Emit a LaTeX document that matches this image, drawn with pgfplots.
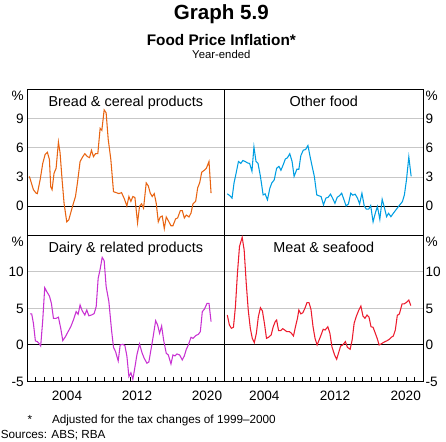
\documentclass[border=0pt]{standalone}
\usepackage{fontspec}
\setmainfont{Liberation Sans}
\usepackage{pgfplots}
\pgfplotsset{compat=1.18}

\definecolor{breadc}{RGB}{232,100,18}
\definecolor{otherc}{RGB}{0,158,226}
\definecolor{dairyc}{RGB}{200,50,210}
\definecolor{meatc}{RGB}{236,28,46}

\pgfplotsset{
  panel/.style={
    scale only axis, height=109.5pt, xmin=1999, xmax=2022,
    axis line style={line width=0.9pt},
    ymajorgrids, major grid style={line width=0.7pt, black!22},
    major tick length=0pt, minor tick length=3pt,
    tick style={black, line width=0.6pt},
    /pgf/number format/assume math mode=true,
    tick label style={font=\fontsize{10.2}{12}\selectfont},
    yticklabel style={inner sep=0pt},
    clip=false,
  },
  left panel/.style={width=147.75pt, yticklabel pos=left,
    yticklabel style={anchor=east, xshift=-2.5pt}},
  right panel/.style={width=149.25pt, yticklabel pos=right,
    yticklabel style={anchor=west, xshift=1.5pt}},
  top panel/.style={ymin=-3, ymax=12, ytick={0,3,6,9}, xtick=\empty},
  bottom panel/.style={ymin=-5, ymax=15, ytick={-5,0,5,10},
    xtick={2003.63,2011.8,2019.97}, xticklabels={2004,2012,2020},
    minor xtick={2000,2001,...,2021}, xtick pos=left,
    xticklabel style={anchor=base, inner sep=0pt, yshift=-14.4pt}},
  series/.style={line width=0.8pt, #1},
  zero/.style={black, line width=0.8pt, forget plot},
}
\newcommand{\ptitle}[1]{\node[anchor=base, font=\fontsize{10.8}{13}\selectfont] at (rel axis cs:0.5,1) [yshift=-12.9pt] {#1};}
\newcommand{\pctL}{\node[anchor=base east, inner sep=0pt, font=\fontsize{10.2}{12}\selectfont] at (rel axis cs:0,1) [xshift=-2.5pt, yshift=-8.6pt] {\%};}
\newcommand{\pctR}{\node[anchor=base west, inner sep=0pt, font=\fontsize{10.2}{12}\selectfont] at (rel axis cs:1,1) [xshift=1.5pt, yshift=-8.6pt] {\%};}

\begin{document}
\begin{tikzpicture}
\useasboundingbox (0,0) rectangle (334.5pt,331.5pt);

\node[anchor=base, font=\fontsize{15.4}{18}\selectfont\bfseries] at (166pt,316.6pt) {Graph 5.9};
\node[anchor=base, font=\fontsize{11.5}{13}\selectfont\bfseries] at (166pt,297pt) {Food Price Inflation*};
\node[anchor=base, font=\fontsize{8.5}{10}\selectfont] at (166pt,287.6pt) {Year-ended};

% top left: bread
\begin{axis}[panel, left panel, top panel, at={(20.5pt,264.4pt)}, anchor=north west]
\addplot[zero] coordinates {(1999,0) (2022,0)};
\addplot[series=breadc] coordinates {
(1999.24,3.07)(1999.71,1.7)(2000.02,1.35)(2000.17,1.3)(2000.49,2.7)(2000.80,4.4)(2001.07,5.3)(2001.34,5.55)(2001.58,4.8)(2001.73,2.0)(2001.89,1.7)(2002.12,3.4)(2002.36,3.9)(2002.63,6.6)(2002.82,5.5)(2003.06,2.7)(2003.29,0.3)(2003.60,-1.6)(2003.84,-1.4)(2004.15,-0.4)(2004.38,0.3)(2004.62,1.0)(2004.85,2.4)(2005.16,4.6)(2005.48,5.1)(2005.71,5.4)(2006.02,5.1)(2006.26,5.0)(2006.49,5.75)(2006.72,5.1)(2006.96,5.4)(2007.23,5.4)(2007.50,8.0)(2007.70,7.8)(2007.97,9.9)(2008.20,9.6)(2008.44,6.9)(2008.75,4.8)(2009.06,1.5)(2009.37,1.4)(2009.69,1.3)(2010.00,1.4)(2010.31,0.8)(2010.62,0.03)(2010.86,1.0)(2011.09,0.5)(2011.32,1.0)(2011.56,0.9)(2011.87,-1.7)(2012.10,0)(2012.34,0.25)(2012.57,-0.2)(2012.88,2.4)(2013.12,2.1)(2013.35,1.35)(2013.58,1.0)(2013.82,1.3)(2014.05,0.3)(2014.29,-1.6)(2014.52,-1.1)(2014.75,-1.0)(2014.99,-2.3)(2015.22,-1.1)(2015.53,-1.6)(2015.77,-2.0)(2016.00,-2.0)(2016.31,-1.3)(2016.55,-1.2)(2016.86,-0.45)(2017.09,-0.45)(2017.33,-1.2)(2017.56,-0.9)(2017.87,-1.1)(2018.11,-0.7)(2018.34,0.25)(2018.65,0.5)(2018.89,1.9)(2019.12,2.4)(2019.36,3.5)(2019.67,3.7)(2019.90,3.9)(2020.21,4.6)(2020.45,1.35)
};
\ptitle{Bread \& cereal products}
\pctL
\end{axis}

% top right: other food
\begin{axis}[panel, right panel, top panel, at={(168.2pt,264.4pt)}, anchor=north west]
\addplot[zero] coordinates {(1999,0) (2022,0)};
\addplot[series=otherc] coordinates {
(1999.35,1.28)(1999.67,1.07)(1999.90,0.83)(2000.13,2.4)(2000.37,3.4)(2000.64,4.6)(2000.91,4.4)(2001.15,4.7)(2001.42,4.6)(2001.69,4.45)(2001.93,4.4)(2002.20,3.6)(2002.43,6.1)(2002.67,4.6)(2002.90,4.4)(2003.18,3.07)(2003.49,1.17)(2003.72,1.28)(2003.99,0.66)(2004.27,1.86)(2004.50,2.4)(2004.77,2.7)(2005.05,3.9)(2005.32,4.1)(2005.55,3.7)(2005.83,4.3)(2006.06,4.86)(2006.29,4.97)(2006.57,5.4)(2006.84,4.6)(2007.07,3.07)(2007.39,3.8)(2007.62,3.8)(2007.85,5.2)(2008.13,5.76)(2008.40,5.83)(2008.67,6.24)(2008.95,4.97)(2009.18,4.0)(2009.41,3.07)(2009.69,1.17)(2009.96,1.07)(2010.19,1.0)(2010.47,0.14)(2010.74,0.83)(2011.01,0.93)(2011.28,1.24)(2011.52,0.83)(2011.79,0.3)(2012.06,0.93)(2012.30,1.07)(2012.57,1.34)(2012.84,0.66)(2013.08,0.03)(2013.35,0.24)(2013.62,1.34)(2013.86,1.14)(2014.13,1.24)(2014.40,0.83)(2014.64,0.24)(2014.91,1.34)(2015.18,0.03)(2015.42,-0.3)(2015.69,-0.3)(2015.92,0.07)(2016.20,-1.6)(2016.47,-0.66)(2016.70,-0.03)(2016.98,-1.34)(2017.25,0.72)(2017.48,-0.03)(2017.76,-1.07)(2017.99,-0.72)(2018.26,-1.07)(2018.54,-0.72)(2018.77,-0.45)(2019.04,-0.14)(2019.31,0.17)(2019.59,0.48)(2019.82,1.17)(2020.06,2.72)(2020.33,5.07)(2020.60,3.07)
};
\ptitle{Other food}
\pctR
\end{axis}

% bottom left: dairy
\begin{axis}[panel, left panel, bottom panel, at={(20.5pt,154.9pt)}, anchor=north west]
\addplot[zero] coordinates {(1999,0) (2022,0)};
\addplot[series=dairyc] coordinates {
(1999.32,4.25)(1999.51,4.25)(1999.71,2.97)(1999.94,0.55)(2000.17,0.46)(2000.41,0.14)(2000.56,-0.14)(2000.80,3.42)(2001.03,7.85)(2001.27,7.3)(2001.58,6.7)(2001.81,5.7)(2002.05,3.65)(2002.36,3.65)(2002.63,3.8)(2002.90,2.28)(2003.14,0.6)(2003.45,1.14)(2003.76,1.83)(2004.07,2.5)(2004.38,3.42)(2004.70,4.57)(2004.93,4.2)(2005.16,5.48)(2005.40,4.7)(2005.71,4.1)(2005.94,4.8)(2006.18,4.0)(2006.49,4.1)(2006.80,4.3)(2007.04,5.25)(2007.27,9.13)(2007.50,10.37)(2007.74,12.0)(2007.97,11.55)(2008.20,8.0)(2008.52,5.94)(2008.83,2.05)(2009.06,-0.32)(2009.30,-0.91)(2009.61,-2.2)(2009.84,0)(2010.15,0.09)(2010.39,-0.09)(2010.62,-1.5)(2010.86,-4.34)(2011.09,-3.8)(2011.32,-4.7)(2011.56,-3.06)(2011.79,-1.37)(2012.10,0.14)(2012.41,-1.14)(2012.65,-1.83)(2012.96,-2.5)(2013.19,-2.33)(2013.43,-0.68)(2013.66,0.91)(2013.98,3.33)(2014.21,2.74)(2014.44,1.6)(2014.68,2.6)(2014.91,0.68)(2015.22,-1.14)(2015.46,-1.37)(2015.77,-2.6)(2016.00,-1.37)(2016.24,-1.5)(2016.47,-1.23)(2016.78,-1.37)(2017.09,-2.05)(2017.33,-1.5)(2017.56,-0.6)(2017.80,0)(2018.11,1.05)(2018.34,0.91)(2018.65,1.28)(2018.97,1.46)(2019.20,1.83)(2019.43,4.57)(2019.67,4.9)(2019.98,5.7)(2020.21,5.7)(2020.45,3.2)
};
\ptitle{Dairy \& related products}
\pctL
\end{axis}

% bottom right: meat
\begin{axis}[panel, right panel, bottom panel, at={(168.2pt,154.9pt)}, anchor=north west]
\addplot[zero] coordinates {(1999,0) (2022,0)};
\addplot[series=meatc] coordinates {
(1999.35,4.1)(1999.59,2.74)(1999.82,2.28)(2000.06,2.42)(2000.29,5.25)(2000.52,9.8)(2000.76,13.5)(2001.07,14.75)(2001.30,13.0)(2001.54,8.45)(2001.77,4.8)(2002.01,2.28)(2002.24,0.91)(2002.47,0.32)(2002.71,1.6)(2002.94,3.88)(2003.18,5.1)(2003.41,4.66)(2003.64,2.97)(2003.88,0.91)(2004.11,1.05)(2004.42,1.37)(2004.66,2.5)(2004.89,3.2)(2005.05,3.42)(2005.28,1.96)(2005.51,1.96)(2005.75,2.24)(2005.98,2.05)(2006.22,1.83)(2006.53,1.83)(2006.76,1.6)(2007.00,1.23)(2007.23,2.5)(2007.46,3.65)(2007.62,4.8)(2007.85,4.25)(2008.09,4.43)(2008.32,5.02)(2008.56,5.8)(2008.79,5.8)(2009.02,4.89)(2009.26,2.5)(2009.49,0.91)(2009.73,0)(2009.96,0.68)(2010.19,1.37)(2010.43,2.15)(2010.66,2.05)(2010.97,2.5)(2011.21,1.6)(2011.44,-0.23)(2011.75,-1.37)(2011.99,-1.96)(2012.22,-1.05)(2012.45,-0.14)(2012.69,0)(2013.00,0.46)(2013.23,-0.32)(2013.55,-0.59)(2013.78,0.68)(2014.01,2.97)(2014.25,3.88)(2014.56,4.8)(2014.79,5.34)(2015.03,3.97)(2015.26,3.65)(2015.50,4.1)(2015.73,3.8)(2015.96,2.5)(2016.20,2.42)(2016.43,1.69)(2016.67,0.91)(2016.90,0)(2017.13,0.14)(2017.37,0.32)(2017.60,0.46)(2017.83,0.59)(2018.07,0.78)(2018.30,1.05)(2018.54,1.23)(2018.77,2.05)(2019.00,4.06)(2019.24,4.25)(2019.55,5.62)(2019.78,5.62)(2020.02,5.8)(2020.33,6.16)(2020.56,5.39)
};
\ptitle{Meat \& seafood}
\pctR
\end{axis}

\node[anchor=base, inner sep=0pt, font=\fontsize{8.8}{10}\selectfont] at (22.5pt,14.2pt) {*};
\node[anchor=base west, inner sep=0pt, font=\fontsize{8.8}{10}\selectfont] at (38.8pt,14.2pt) {Adjusted for the tax changes of 1999–2000};
\node[anchor=base west, inner sep=0pt, font=\fontsize{8.8}{10}\selectfont] at (0.4pt,2.6pt) {Sources: ABS; RBA};
\end{tikzpicture}
\end{document}
